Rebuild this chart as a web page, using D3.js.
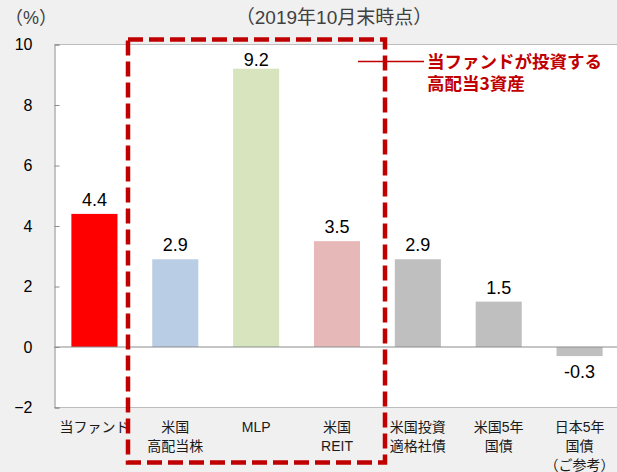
<!DOCTYPE html>
<html>
<head>
<meta charset="utf-8">
<script src="https://cdn.jsdelivr.net/npm/d3@7"></script>
<style>
  body { margin: 0; background: #f0f0f0; }
  svg { display: block; font-family: "Liberation Sans", "Noto Sans CJK JP", sans-serif; }
</style>
</head>
<body>
<svg id="chart"></svg>
<script>
var width = 617,
    height = 472;

// data
var categories = ["当ファンド", "米国高配当株", "MLP", "米国REIT", "米国投資適格社債", "米国5年国債", "日本5年国債"];
var labelLines = [["当ファンド"], ["米国", "高配当株"], ["MLP"], ["米国", "REIT"], ["米国投資", "適格社債"], ["米国5年", "国債"], ["日本5年", "国債", "（ご参考）"]];
var values = [4.4, 2.9, 9.2, 3.5, 2.9, 1.5, -0.3];
var colors = ["#ff0000", "#b9cde5", "#d7e4bd", "#e6b9b8", "#bfbfbf", "#bfbfbf", "#bfbfbf"];
var yTicks = [-2, 0, 2, 4, 6, 8, 10];

var svg = d3.select("#chart")
    .attr("width", width)
    .attr("height", height);

var plotLeft = 54.5, plotTop = 44.5, plotBottom = 407.5;

var x = d3.scaleBand()
    .domain(categories)
    .range([54, 620])
    .paddingInner(0.43)
    .paddingOuter(0.215);

var y = d3.scaleLinear()
    .domain([-2, 10])
    .range([plotBottom, plotTop]);

// plot area
svg.append("rect")
    .attr("x", plotLeft).attr("y", plotTop)
    .attr("width", width - plotLeft).attr("height", plotBottom - plotTop)
    .style("fill", "#fff");

svg.append("line")
    .attr("x1", plotLeft).attr("x2", width)
    .attr("y1", plotTop).attr("y2", plotTop)
    .style("stroke", "#bdbdbd");
svg.append("line")
    .attr("x1", plotLeft).attr("x2", width)
    .attr("y1", plotBottom).attr("y2", plotBottom)
    .style("stroke", "#bdbdbd");

// bars
svg.selectAll("rect.bar")
    .data(values)
    .enter()
    .append("rect")
    .attr("class", "bar")
    .attr("x", function(d, i) { return x(categories[i]); })
    .attr("y", function(d) { return y(Math.max(d, 0)); })
    .attr("width", x.bandwidth())
    .attr("height", function(d) { return Math.abs(y(d) - y(0)); })
    .style("fill", function(d, i) { return colors[i]; });

// zero line
svg.append("line")
    .attr("x1", plotLeft).attr("x2", width)
    .attr("y1", y(0)).attr("y2", y(0))
    .style("stroke", "#8c8c8c")
    .style("stroke-width", 1.2);

// y axis
var yAxis = svg.append("g")
    .attr("transform", "translate(" + plotLeft + ",0)")
    .call(d3.axisLeft(y).tickValues(yTicks).tickSize(-5).tickPadding(22));
yAxis.select(".domain").style("stroke", "#8c8c8c");
yAxis.selectAll(".tick line").style("stroke", "#8c8c8c");
yAxis.selectAll(".tick text")
    .style("font-size", "16px")
    .style("fill", "#000")
    .style("font-family", "Liberation Sans, sans-serif");

// value labels (pushed inside the plot when they would hit the top)
svg.selectAll("text.val")
    .data(values)
    .enter()
    .append("text")
    .attr("class", "val")
    .attr("x", function(d, i) { return x(categories[i]) + x.bandwidth() / 2; })
    .attr("y", function(d) { return d >= 0 ? Math.max(y(d) - 8, plotTop + 21) : y(d) + 22; })
    .attr("text-anchor", "middle")
    .style("font-size", "18px")
    .style("fill", "#000")
    .text(function(d) { return d.toFixed(1); });

// category labels
var catG = svg.selectAll("g.cat")
    .data(labelLines)
    .enter()
    .append("g")
    .attr("class", "cat")
    .attr("transform", function(d, i) {
        return "translate(" + (x(categories[i]) + x.bandwidth() / 2) + ",431.5)";
    });
catG.selectAll("text")
    .data(function(d) { return d; })
    .enter()
    .append("text")
    .attr("y", function(d, j) { return j * 19; })
    .attr("text-anchor", "middle")
    .style("font-size", "14px")
    .style("fill", "#1a1a1a")
    .text(function(d) { return d; });

// header texts
svg.append("text")
    .attr("x", 5).attr("y", 24)
    .style("font-size", "18px")
    .style("fill", "#404040")
    .text("（%）");

svg.append("text")
    .attr("x", 334).attr("y", 24)
    .attr("text-anchor", "middle")
    .style("font-size", "19px")
    .style("fill", "#404040")
    .text("（2019年10月末時点）");

// dashed box around high dividend assets
svg.append("rect")
    .attr("x", 128).attr("y", 39.5)
    .attr("width", 257).attr("height", 423)
    .style("fill", "none")
    .style("stroke", "#c00000")
    .style("stroke-width", 4.5)
    .style("stroke-dasharray", "15,6");

// annotation
svg.append("line")
    .attr("x1", 358).attr("x2", 424)
    .attr("y1", 61.5).attr("y2", 61.5)
    .style("stroke", "#c00000")
    .style("stroke-width", 1.5);

svg.append("text")
    .attr("x", 427).attr("y", 67.5)
    .style("font-size", "17.5px")
    .style("font-weight", "bold")
    .style("fill", "#c00000")
    .style("font-family", "Noto Sans CJK JP, sans-serif")
    .text("当ファンドが投資する");
svg.append("text")
    .attr("x", 427).attr("y", 90)
    .style("font-size", "17.5px")
    .style("font-weight", "bold")
    .style("fill", "#c00000")
    .style("font-family", "Noto Sans CJK JP, sans-serif")
    .text("高配当3資産");
</script>
</body>
</html>
